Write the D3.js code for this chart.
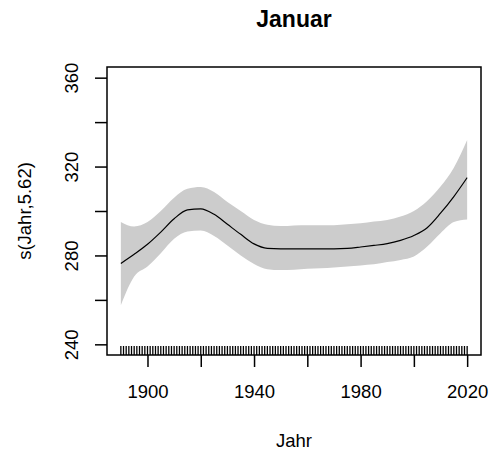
<!DOCTYPE html>
<meta charset="utf-8">
<script src="https://d3js.org/d3.v7.min.js"></script>
<style>
body { margin: 0; background: #fff; }
svg { display: block; background: #fff; }
text { font-family: "Liberation Sans", Arial, sans-serif; fill: #000; }
.tick text { font-size: 18.5px; }
</style>
<svg id="chart"></svg>
<script>

// smooth term s(Jahr) with confidence band
var years = [1890, 1895, 1900, 1905, 1910, 1915, 1920, 1925, 1930, 1935, 1940, 1945, 1950, 1955,
             1960, 1965, 1970, 1975, 1980, 1985, 1990, 1995, 2000, 2005, 2010, 2015, 2020];
var fit   = [276.4, 280.5, 285.0, 290.5, 296.5, 300.5, 301.0, 298.5, 294.0, 289.5, 285.2, 283.2, 283.0, 283.0,
             283.0, 283.0, 283.0, 283.2, 283.8, 284.5, 285.3, 286.8, 289.0, 292.5, 299.0, 306.5, 315.0];
var upper = [295.1, 293.0, 295.0, 300.0, 306.0, 310.0, 310.8, 308.5, 304.0, 300.0, 296.0, 293.8, 293.2, 293.5,
             293.6, 293.6, 293.6, 294.0, 294.5, 295.3, 296.0, 297.5, 300.0, 304.5, 311.0, 319.5, 332.0];
var lower = [257.6, 270.5, 275.0, 281.0, 287.5, 290.8, 291.2, 288.8, 284.5, 280.0, 276.2, 273.8, 273.4, 273.6,
             274.0, 274.2, 274.6, 275.0, 275.5, 276.0, 277.0, 278.0, 279.5, 284.0, 290.0, 295.0, 296.2];

// one observation per year -> rug
var rugYears = d3.range(1890, 2021);

var xlim = [1890, 2020];
var ylim = [240, 360];
var xTicks  = [1900, 1920, 1940, 1960, 1980, 2000, 2020];
var xLabels = [1900, 1940, 1980, 2020];
var yTicks  = [240, 260, 280, 300, 320, 340, 360];
var yLabels = [240, 280, 320, 360];

var width = 489, height = 452;
var plotL = 107, plotR = 481, plotT = 67, plotB = 355;

var svg = d3.select("#chart").attr("width", width).attr("height", height);

// R style 4% padding
function pad(lim) { var d = (lim[1] - lim[0]) * 0.04; return [lim[0] - d, lim[1] + d]; }

var x = d3.scaleLinear().domain(pad(xlim)).range([plotL, plotR]);
var y = d3.scaleLinear().domain(pad(ylim)).range([plotB, plotT]);

var pts = years.map(function(yr, i) { return {x: yr, fit: fit[i], lo: lower[i], hi: upper[i]}; });

svg.append("path")
  .datum(pts)
  .attr("fill", "#cccccc")
  .attr("d", d3.area()
    .x(function(d) { return x(d.x); })
    .y0(function(d) { return y(d.lo); })
    .y1(function(d) { return y(d.hi); })
    .curve(d3.curveMonotoneX));

svg.append("path")
  .datum(pts)
  .attr("fill", "none")
  .attr("stroke", "#000")
  .attr("stroke-width", 1.2)
  .attr("d", d3.line()
    .x(function(d) { return x(d.x); })
    .y(function(d) { return y(d.fit); })
    .curve(d3.curveMonotoneX));

// rug
svg.append("g").selectAll("line").data(rugYears).enter()
  .append("line")
  .attr("x1", function(d) { return x(d); })
  .attr("x2", function(d) { return x(d); })
  .attr("y1", plotB)
  .attr("y2", plotB - 9)
  .attr("stroke", "#000")
  .attr("stroke-width", 1.3);

// axes
var xAxis = svg.append("g")
  .attr("transform", "translate(0," + plotB + ")")
  .call(d3.axisBottom(x).tickValues(xTicks).tickSize(12).tickPadding(0)
    .tickFormat(function(d) { return xLabels.indexOf(d) >= 0 ? d : ""; }));
xAxis.select(".domain").remove();
xAxis.selectAll(".tick line").attr("stroke", "#000").attr("stroke-width", 1.5);
xAxis.selectAll(".tick text").attr("y", 43).attr("dy", 0);

var yAxis = svg.append("g")
  .attr("transform", "translate(" + plotL + ",0)")
  .call(d3.axisLeft(y).tickValues(yTicks).tickSize(12)
    .tickFormat(function(d) { return yLabels.indexOf(d) >= 0 ? d : ""; }));
yAxis.select(".domain").remove();
yAxis.selectAll(".tick line").attr("stroke", "#000").attr("stroke-width", 1.5);
yAxis.selectAll(".tick text")
  .attr("x", 0).attr("y", 0).attr("dy", 0)
  .attr("text-anchor", "middle")
  .attr("transform", "translate(-29,0) rotate(-90)");

// box
svg.append("rect")
  .attr("x", plotL).attr("y", plotT)
  .attr("width", plotR - plotL).attr("height", plotB - plotT)
  .attr("fill", "none").attr("stroke", "#000").attr("stroke-width", 1.5);

// titles
svg.append("text")
  .attr("x", (plotL + plotR) / 2).attr("y", 27)
  .attr("text-anchor", "middle")
  .style("font-size", "23px").style("font-weight", "bold")
  .text("Januar");

svg.append("text")
  .attr("x", (plotL + plotR) / 2).attr("y", 447)
  .attr("text-anchor", "middle")
  .style("font-size", "18.5px")
  .text("Jahr");

svg.append("text")
  .attr("transform", "translate(31," + (plotT + plotB) / 2 + ") rotate(-90)")
  .attr("text-anchor", "middle")
  .style("font-size", "18.5px")
  .text("s(Jahr,5.62)");

</script>
